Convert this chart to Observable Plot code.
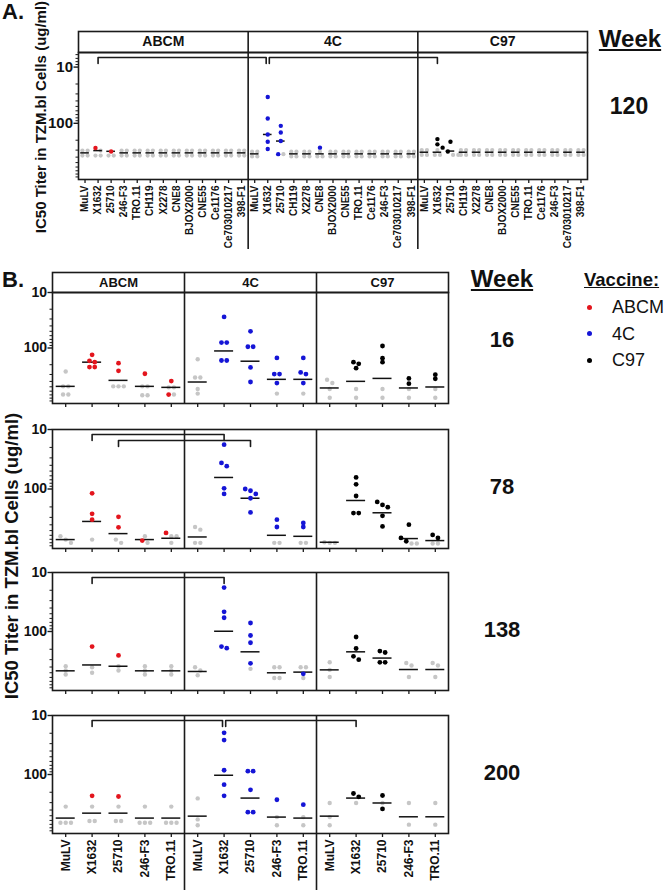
<!DOCTYPE html>
<html><head><meta charset="utf-8">
<script src="https://cdn.jsdelivr.net/npm/d3@7"></script>
<script src="https://cdn.jsdelivr.net/npm/@observablehq/plot@0.6"></script>
<style>
body{margin:0;background:#fff;}
#root{position:relative;width:666px;height:891px;overflow:hidden;font-family:"Liberation Sans",Arial,sans-serif;color:#111;background:#fff;}
.abs{position:absolute;white-space:nowrap;line-height:1;}
.b{font-weight:bold;}
</style></head><body><div id="root"></div>
<script>
// ---------------- DATA ----------------
const groups = ["ABCM", "4C", "C97"];
const groupColors = ["#e3151d", "#1515d6", "#000000"];
const grayColor = "#c6c6c6";

const virusesB = ["MuLV", "X1632", "25710", "246-F3", "TRO.11"];
const virusesA_ABCM = ["MuLV","X1632","25710","246-F3","TRO.11","CH119","X2278","CNE8","BJOX2000","CNE55","Ce1176","Ce703010217","398-F1"];
const virusesA_4C = ["MuLV","X1632","25710","CH119","X2278","CNE8","BJOX2000","CNE55","TRO.11","Ce1176","246-F3","Ce703010217","398-F1"];
const virusesA_C97 = ["MuLV","X1632","25710","CH119","X2278","CNE8","BJOX2000","CNE55","TRO.11","Ce1176","246-F3","Ce703010217","398-F1"];

const weekA = "120";
const weeksB = ["16", "78", "138", "200"];

// Week 120 (panel A): neutralizing (coloured) values, non-neutralizing (gray) values, medians
const w120_pos = [
  [[],[275],[318],[],[],[],[],[],[],[],[],[],[]],
  [[],[34,82,158,213,286],[111,146,207,354],[],[],[271],[],[],[],[],[],[],[]],
  [[],[191,237],[213,271,318],[],[],[],[],[],[],[],[],[],[]]
];
const w120_neg = [
  [[306,306,375,375],[306,375,375],[375,375],[306,306,375,375],[306,306,375,375],[306,306,375,375],[306,306,375,375],[306,306,375,375],[306,306,375,375],[306,306,375,375],[306,306,375,375],[306,306,375,375],[306,306,375,375]],
  [[320,320,390,390],[],[354],[320,320,390,390],[320,320,390,390],[320,390,390],[320,320,390,390],[320,320,390,390],[320,320,390,390],[320,320,390,390],[320,320,390,390],[320,320,390,390],[320,320,390,390]],
  [[300,300,365,365],[300,365,365],[365,365],[300,300,365,365],[300,300,365,365],[300,300,365,365],[300,300,365,365],[300,300,365,365],[300,300,365,365],[300,300,365,365],[300,300,365,365],[300,300,365,365],[300,300,365,365]]
];
const w120_med = [
  [336,306,315,336,336,336,336,336,336,336,336,336,336],
  [350,158,207,350,350,350,350,350,350,350,350,350,350],
  [327,327,312,327,327,327,327,327,327,327,327,327,327]
];
const w120_brackets = [["ABCM","X1632","4C","X1632",0], ["4C","X1632","C97","X1632",0]];

// Week 16
const w16_pos = [
  [[],[133,170,180,221,221],[188,258],[291],[394,690]],
  [[],[27.6,80,80,168,168],[50,95,95,224,410],[151,295,295,428],[151,276,295,428]],
  [[],[180,193,231],[92,153,180],[353,440],[303,360]]
];
const w16_neg = [
  [[265,491,491,690,690],[],[491,491,491],[491,491,709,709],[512,512,690]],
  [[159,339,339,547,663],[],[],[663],[663]],
  [[373,428,547,790],[547,790],[547,790],[547,790],[547,790]]
];
const w16_med = [[491,180,383,491,512],[410,113,173,367,367],[525,399,353,525,504]];
const w16_brackets = [];

// Week 78
const w78_pos = [
  [[],[118,261,328],[293,441],[736],[548]],
  [[],[18,36.4,41.4,97.5,121],[100,107,121,143,248],[328,435],[373,435]],
  [[],[64,83.5,131,254,254],[165,185,202,282,425],[398,663,755],[591,663]]
];
const w78_neg = [
  [[624,708,804],[708],[708,804],[624,804],[624,624,804]],
  [[435,482,804,804],[],[],[804,804],[804,804]],
  [[785,804,804],[],[],[826,826],[826,826]]
];
const w78_med = [[708,351,562,708,673],[640,64,143,600,624],[785,156,251,681,736]];
const w78_brackets = [["ABCM","X1632","4C","X1632",0], ["ABCM","25710","4C","25710",1]];

// Week 138
const w138_pos = [
  [[],[180],[254],[],[]],
  [[],[18,46.4,58.5,180,192],[71.7,117,155,346],[],[521]],
  [[],[124,194,264,300],[215,227,333,333],[],[]]
];
const w138_neg = [
  [[388,458,535],[404,501],[388,458],[388,458,535],[388,458,535]],
  [[404,458,550],[],[430],[404,404,615,615],[404,404,615]],
  [[333,447,591],[],[],[341,378,591],[341,378,591]]
];
const w138_med = [[464,369,388,464,464],[476,99,221,501,488],[447,221,282,441,441]];
const w138_brackets = [["ABCM","X1632","4C","X1632",0]];

// Week 200
const w200_pos = [
  [[],[230],[236],[],[]],
  [[],[19.7,26.1,84.7,149,230],[88,88,182,435,435],[268],[325]],
  [[],[210,239],[227,383],[],[]]
];
const w200_neg = [
  [[350,656,656,656],[350,615,615],[350,615,615],[350,656,656,656],[350,656,656,656]],
  [[254,577,726],[],[],[527,726],[527,726]],
  [[304,527,726],[304],[304],[304,708],[304,708]]
];
const w200_med = [[548,452,452,548,548],[508,103,251,527,548],[508,251,304,521,521]];
const w200_brackets = [["ABCM","X1632","4C","X1632",0], ["4C","X1632","C97","X1632",0]];

// ---------------- DRAWING ----------------
const root = document.getElementById("root");
const FONT = "'Liberation Sans', Arial, Helvetica, sans-serif";
const INK = "#1a1a1a";

function place(el, top) {
  el.style.position = "absolute";
  el.style.left = "0px";
  el.style.top = top + "px";
  root.appendChild(el);
}
function addText(txt, cx, cy, size, bold, extra) {
  const d = document.createElement("div");
  d.className = "abs";
  d.textContent = txt;
  d.style.left = cx + "px";
  d.style.top = cy + "px";
  d.style.fontSize = size + "px";
  d.style.fontWeight = bold ? "bold" : "normal";
  d.style.transform = "translate(-50%,-50%)" + (extra || "");
  root.appendChild(d);
  return d;
}

function layoutOf(viruses) {
  const sizes = viruses.map(v => v.length);
  const offsets = sizes.map((s, i) => d3.sum(sizes.slice(0, i)));
  const n = d3.sum(sizes);
  const seps = offsets.slice(1).map(o => o - 0.5);
  return {sizes, offsets, n, seps, names: viruses.flat()};
}

function headerPlot(cfg) {
  const L = layoutOf(cfg.viruses);
  const svg = Plot.plot({
    width: 666, height: cfg.hh + 4,
    marginTop: 2, marginBottom: 2, marginLeft: cfg.ml, marginRight: cfg.mr,
    x: {domain: [-0.5, L.n - 0.5], axis: null},
    style: {fontFamily: FONT, background: "transparent", overflow: "visible"},
    marks: [
      Plot.frame({stroke: INK, strokeWidth: 1.6}),
      Plot.ruleX(L.seps, {stroke: INK, strokeWidth: 1.6}),
      Plot.text(groups, {x: (d, i) => L.offsets[i] + (L.sizes[i] - 1) / 2, text: d => d,
        fontSize: cfg.fontSize, fontWeight: "bold", fill: "#111"})
    ]
  });
  place(svg, cfg.top - 2);
}

function rowPlot(cfg) {
  const L = layoutOf(cfg.viruses);
  const H = cfg.mt + cfg.frameH + cfg.mb;
  const yRange = [cfg.mt + cfg.frameH, cfg.mt];
  const ys = Plot.scale({y: {type: "log", domain: cfg.yDomain, range: yRange}});
  const negRows = [], posRows = [], medRows = [];
  cfg.pos.forEach((gp, g) => gp.forEach((vals, i) => {
    const xi = L.offsets[g] + i;
    const pts = [...vals.map(v => ({v, pos: true})), ...cfg.neg[g][i].map(v => ({v, pos: false}))];
    pts.sort((a, b) => a.v - b.v);
    const clusters = []; let cur = [];
    pts.forEach(p => {
      if (cur.length && Math.log10(p.v) - Math.log10(cur[cur.length - 1].v) > cfg.thr) { clusters.push(cur); cur = []; }
      cur.push(p);
    });
    if (cur.length) clusters.push(cur);
    clusters.forEach(cl => cl.forEach((p, k) => {
      const row = {x: xi + (k - (cl.length - 1) / 2) * cfg.step, y: p.v, g};
      (p.pos ? posRows : negRows).push(row);
    }));
    medRows.push({x1: xi - cfg.hw, x2: xi + cfg.hw, y: cfg.med[g][i]});
  }));
  // brackets
  const br = cfg.brackets.map((b, j) => {
    const g1 = groups.indexOf(b[0]), g2 = groups.indexOf(b[2]);
    return {id: j, level: b[4],
      x1: L.offsets[g1] + cfg.viruses[g1].indexOf(b[1]),
      x2: L.offsets[g2] + cfg.viruses[g2].indexOf(b[3])};
  });
  br.forEach(a => br.forEach(b => {
    if (a !== b && a.level === b.level && a.x2 === b.x1) { a.x2e = a.x2 - cfg.shareGap; b.x1e = b.x1 + cfg.shareGap; }
  }));
  const brRows = [];
  br.forEach(b => {
    const yTop = ys.invert(cfg.mt + 5 + 6 * b.level);
    const yDrop = ys.invert(cfg.mt + 11 + 6 * b.level);
    const x1 = b.x1e ?? b.x1, x2 = b.x2e ?? b.x2;
    brRows.push({id: b.id, x: x1, y: yDrop}, {id: b.id, x: x1, y: yTop}, {id: b.id, x: x2, y: yTop}, {id: b.id, x: x2, y: yDrop});
  });
  const lo = Math.min(...cfg.yDomain), hi = Math.max(...cfg.yDomain);
  const minor = [1, 10, 100].flatMap(p => d3.range(2, 10).map(k => k * p)).filter(v => v > lo && v < hi);
  const svg = Plot.plot({
    width: 666, height: H,
    marginTop: cfg.mt, marginBottom: cfg.mb, marginLeft: cfg.ml, marginRight: cfg.mr,
    x: {domain: [-0.5, L.n - 0.5]},
    y: {type: "log", domain: cfg.yDomain, range: yRange},
    style: {fontFamily: FONT, background: "transparent", overflow: "visible"},
    marks: [
      Plot.axisY({ticks: minor, tickSize: 2.5, tickFormat: () => "", stroke: INK, label: null}),
      Plot.axisY({ticks: [10, 100], tickSize: 4.5, tickPadding: 1, tickFormat: d => String(d),
        fontSize: cfg.yFont, fontWeight: "bold", stroke: INK, fill: "#111", label: null, strokeWidth: 1.4}),
      Plot.axisX({ticks: d3.range(L.n), tickSize: 4, tickPadding: 2, tickRotate: -90,
        tickFormat: cfg.labels ? (i => L.names[i]) : (() => ""),
        fontSize: cfg.labelSize, fontWeight: "bold", fill: "#111", stroke: INK, strokeWidth: 1.3, label: null}),
      Plot.ruleX(L.seps, {stroke: INK, strokeWidth: 1.6, insetBottom: -cfg.sepExtend}),
      Plot.frame({stroke: INK, strokeWidth: 1.6}),
      Plot.dot(negRows, {x: "x", y: "y", r: cfg.rNeg, fill: grayColor}),
      Plot.ruleY(medRows, {x1: "x1", x2: "x2", y: "y", stroke: "#111", strokeWidth: 1.5}),
      ...groups.map((gname, gi) => Plot.dot(posRows.filter(d => d.g === gi), {x: "x", y: "y", r: cfg.r, fill: groupColors[gi]})),
      Plot.line(brRows, {x: "x", y: "y", z: "id", stroke: INK, strokeWidth: 1.6})
    ]
  });
  place(svg, cfg.top - cfg.mt);
}

// ---- Panel A ----
const vA = [virusesA_ABCM, virusesA_4C, virusesA_C97];
headerPlot({viruses: vA, top: 31, hh: 21, ml: 78, mr: 79, fontSize: 14});
rowPlot({viruses: vA, pos: w120_pos, neg: w120_neg, med: w120_med, brackets: w120_brackets,
  top: 52, mt: 4, frameH: 127, mb: 74, ml: 78, mr: 79, yDomain: [1000, 5.5], yFont: 15,
  labels: true, labelSize: 10, thr: 0.07, step: 0.4, hw: 0.33, r: 2.2, rNeg: 2.1, sepExtend: 70, shareGap: 0.12});

// ---- Panel B ----
const vB = [virusesB, virusesB, virusesB];
const rowsB = [
  {pos: w16_pos, neg: w16_neg, med: w16_med, brackets: w16_brackets, top: 292, frameH: 111, mb: 10, labels: false, sepExtend: 0},
  {pos: w78_pos, neg: w78_neg, med: w78_med, brackets: w78_brackets, top: 429, frameH: 119, mb: 10, labels: false, sepExtend: 0},
  {pos: w138_pos, neg: w138_neg, med: w138_med, brackets: w138_brackets, top: 572, frameH: 118, mb: 10, labels: false, sepExtend: 0},
  {pos: w200_pos, neg: w200_neg, med: w200_med, brackets: w200_brackets, top: 715, frameH: 118, mb: 58, labels: true, sepExtend: 57}
];
headerPlot({viruses: vB, top: 272, hh: 20, ml: 52, mr: 218, fontSize: 13});
rowsB.forEach(r => rowPlot(Object.assign({viruses: vB, mt: 4, ml: 52, mr: 218, yDomain: [1000, 10], yFont: 14,
  labelSize: 12, thr: 0.065, step: 0.2, hw: 0.36, r: 2.4, rNeg: 2.2, shareGap: 0.06}, r)));

// ---- Text annotations ----
addText("A.", 13, 12, 22, true);
addText("B.", 13, 280, 22, true);
addText("IC50 Titer in TZM.bl Cells (ug/ml)", 40, 117, 15, true, " rotate(-90deg)");
addText("IC50 Titer in TZM.bl Cells (ug/ml)", 12, 556, 18.5, true, " rotate(-90deg)");

const wA = addText("Week", 630, 39, 24, true); wA.style.textDecoration = "underline";
addText(weekA, 629, 106, 23, true);
const wB = addText("Week", 502, 279, 24, true); wB.style.textDecoration = "underline";
const weekCenters = [340, 487, 630, 773];
weeksB.forEach((w, i) => addText(w, 502, weekCenters[i], 22, true));

const vac = document.createElement("div");
vac.className = "abs b"; vac.textContent = "Vaccine:";
vac.style.left = "584px"; vac.style.top = "271px"; vac.style.fontSize = "18.5px"; vac.style.textDecoration = "underline";
root.appendChild(vac);
groups.forEach((g, i) => {
  const cy = 307 + i * 26.5;
  const dot = document.createElement("div");
  dot.className = "abs";
  dot.style.left = "587px"; dot.style.top = (cy - 2.5) + "px";
  dot.style.width = "5px"; dot.style.height = "5px"; dot.style.borderRadius = "50%";
  dot.style.background = groupColors[i];
  root.appendChild(dot);
  const t = document.createElement("div");
  t.className = "abs"; t.textContent = g;
  t.style.left = "612px"; t.style.top = cy + "px"; t.style.fontSize = "18px";
  t.style.transform = "translateY(-50%)";
  root.appendChild(t);
});
</script></body></html>
